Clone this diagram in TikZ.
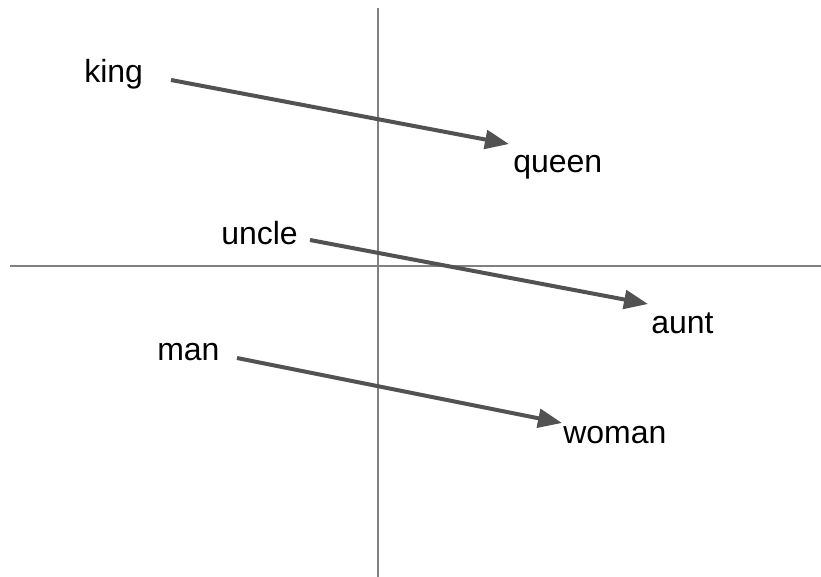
\documentclass[tikz,border=0pt]{standalone}
\usepackage{fontspec}
\setmainfont{Liberation Sans}
\usetikzlibrary{arrows.meta}
\begin{document}
\begin{tikzpicture}[x=0.75pt,y=-0.75pt,
  word/.style={font=\fontsize{24}{28}\selectfont, inner sep=0pt, anchor=base west},
  axis/.style={draw=black!50, line width=1.1pt},
  analogy/.style={draw=black!68, line width=3pt,
    -{Triangle[length=18pt,width=14pt]}}]
  \useasboundingbox (0,0) rectangle (821,577);
  % coordinate axes
  \draw[axis] (378,8) -- (378,577);
  \draw[axis] (10,266) -- (821,266);
  % word labels
  \node[word] (king)  at (84,83)  {king};
  \node[word] (queen) at (513,173) {queen};
  \node[word] (uncle) at (221,245) {uncle};
  \node[word] (aunt)  at (651,334) {aunt};
  \node[word] (man)   at (157,360) {man};
  \node[word] (woman) at (563,443) {woman};
  % arrow end points
  \coordinate (k0) at (171,80);  \coordinate (k1) at (509,144);
  \coordinate (u0) at (310,240); \coordinate (u1) at (648,304);
  \coordinate (m0) at (237,358); \coordinate (m1) at (562,423);
  % analogy arrows
  \draw[analogy] (k0) -- (k1);
  \draw[analogy] (u0) -- (u1);
  \draw[analogy] (m0) -- (m1);
\end{tikzpicture}
\end{document}
